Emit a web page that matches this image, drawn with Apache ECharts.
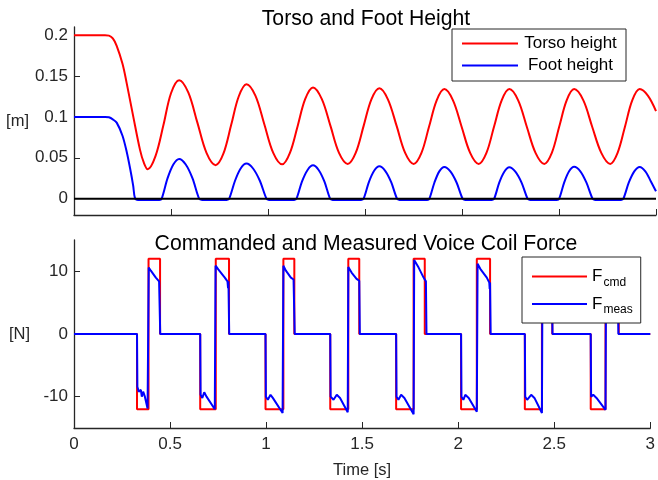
<!DOCTYPE html>
<html>
<head>
<meta charset="utf-8">
<script src="https://cdn.jsdelivr.net/npm/echarts@6/dist/echarts.min.js"></script>
<style>
html,body{margin:0;padding:0;background:#fff;}
#main{width:658px;height:480px;}
</style>
</head>
<body>
<div id="main"></div>
<script>
// 上图: 躯干和脚的高度 [t, m]
var torsoHeight = [
  [0,0.2],[0.160,0.2],[0.180,0.1995],[0.2,0.196],[0.22,0.187],[0.25,0.165],[0.271,0.142],[0.305,0.101],[0.34,0.060],[0.36,0.044],[0.38,0.036],
  [0.42,0.052],[0.461,0.090],[0.50,0.129],[0.542,0.145],
  [0.589,0.130],[0.636,0.093],[0.683,0.056],[0.730,0.041],
  [0.770,0.055],[0.810,0.090],[0.849,0.125],[0.889,0.140],
  [0.935,0.126],[0.981,0.091],[1.027,0.056],[1.073,0.042],
  [1.113,0.056],[1.153,0.089],[1.192,0.122],[1.232,0.136],
  [1.277,0.122],[1.322,0.089],[1.366,0.056],[1.411,0.0425],
  [1.452,0.056],[1.493,0.089],[1.533,0.1215],[1.574,0.135],
  [1.618,0.1215],[1.663,0.089],[1.707,0.056],[1.751,0.0425],
  [1.791,0.056],[1.830,0.088],[1.870,0.1205],[1.909,0.134],
  [1.953,0.1205],[1.998,0.088],[2.042,0.056],[2.086,0.0425],
  [2.126,0.056],[2.165,0.088],[2.205,0.1205],[2.244,0.134],
  [2.289,0.1205],[2.334,0.088],[2.379,0.056],[2.424,0.0425],
  [2.463,0.056],[2.501,0.088],[2.540,0.1205],[2.578,0.134],
  [2.625,0.1205],[2.671,0.088],[2.718,0.056],[2.764,0.0425],
  [2.802,0.056],[2.840,0.088],[2.878,0.1205],[2.916,0.134],
  [2.958,0.126],[3.0,0.107]
];
var footHeight = [
  [0,0.1],[0.160,0.1],[0.180,0.0995],[0.2,0.097],[0.22,0.093],[0.25,0.077],[0.271,0.058],[0.29,0.036],[0.305,0.016],[0.314,0.001],
  [0.33,-0.0015],[0.44,-0.0015],
  [0.452,0],[0.482,0.0248],[0.512,0.0418],[0.542,0.0486],[0.576,0.0418],[0.611,0.0248],[0.645,0],
  [0.66,-0.0015],[0.787,-0.0015],
  [0.80,0],[0.83,0.0219],[0.859,0.0369],[0.889,0.0429],[0.923,0.0369],[0.958,0.0219],[0.992,0],
  [1.005,-0.0015],[1.135,-0.0015],
  [1.147,0],[1.175,0.0208],[1.204,0.0351],[1.232,0.0408],[1.261,0.0351],[1.291,0.0208],[1.32,0],
  [1.333,-0.0015],[1.48,-0.0015],
  [1.493,0],[1.52,0.0202],[1.547,0.0341],[1.574,0.0396],[1.604,0.0341],[1.635,0.0202],[1.665,0],
  [1.678,-0.0015],[1.82,-0.0015],
  [1.832,0],[1.858,0.0198],[1.883,0.0334],[1.909,0.0388],[1.94,0.0334],[1.972,0.0198],[2.003,0],
  [2.016,-0.0015],[2.154,-0.0015],
  [2.166,0],[2.192,0.0196],[2.218,0.033],[2.244,0.0384],[2.275,0.033],[2.307,0.0196],[2.338,0],
  [2.351,-0.0015],[2.489,-0.0015],
  [2.501,0],[2.527,0.0199],[2.552,0.0335],[2.578,0.039],[2.61,0.0335],[2.641,0.0199],[2.673,0],
  [2.686,-0.0015],[2.82,-0.0015],
  [2.832,0],[2.86,0.0198],[2.888,0.0334],[2.916,0.0388],[2.945,0.0334],[2.973,0.0214],[3.0,0.009]
];
var groundLine = [[0,0],[3,0]];

// 下图: 音圈力 [t, N]
var forceCmd = [
  [0,0],[0.328,0],[0.328,-12],[0.388,-12],[0.388,12],[0.448,12],[0.448,0],
  [0.657,0],[0.657,-12],[0.738,-12],[0.738,12],[0.807,12],[0.807,0],
  [0.997,0],[0.997,-12],[1.090,-12],[1.090,12],[1.147,12],[1.147,0],
  [1.334,0],[1.334,-12],[1.428,-12],[1.428,12],[1.485,12],[1.485,0],
  [1.677,0],[1.677,-12],[1.768,-12],[1.768,12],[1.826,12],[1.826,0],
  [2.015,0],[2.015,-12],[2.097,-12],[2.097,12],[2.166,12],[2.166,0],
  [2.347,0],[2.347,-12],[2.436,-12],[2.436,12],[2.49,12],[2.49,0],
  [2.69,0],[2.69,-12],[2.767,-12],[2.767,12],[2.836,12],[2.836,0],
  [3.0,0]
];
var forceMeas = [
  [0,0],[0.328,0],[0.330,-8.4],[0.337,-9.2],[0.348,-8.9],[0.353,-10],[0.360,-9.2],[0.369,-10],[0.383,-11.9],
  [0.389,10.6],[0.400,10.1],[0.426,9.0],[0.443,8.4],[0.449,0],
  [0.657,0],[0.659,-9.7],[0.668,-10.2],[0.678,-9.3],[0.690,-10],[0.733,-12],
  [0.737,10.9],[0.751,10.3],[0.785,9.0],[0.799,8.4],[0.802,7.3],[0.804,8.4],[0.808,0],
  [0.997,0],[0.999,-10],[1.009,-10.5],[1.023,-9.7],[1.035,-10.2],[1.086,-12.6],
  [1.090,10.9],[1.103,10.1],[1.129,9.0],[1.143,8.7],[1.149,0],
  [1.334,0],[1.336,-10],[1.351,-10.5],[1.368,-9.7],[1.385,-10.2],[1.425,-12.5],
  [1.428,10.7],[1.445,9.8],[1.471,8.8],[1.485,8.5],[1.488,0],
  [1.677,0],[1.679,-10],[1.689,-10.5],[1.703,-9.7],[1.720,-10.2],[1.768,-12.8],
  [1.771,11.8],[1.794,10.6],[1.820,9.0],[1.832,8.4],[1.835,0],
  [2.015,0],[2.017,-10],[2.027,-10.5],[2.037,-9.7],[2.055,-10.2],[2.097,-12.4],
  [2.101,11.2],[2.115,10.4],[2.149,9.0],[2.162,8.2],[2.164,7.2],[2.166,8.2],[2.169,0],
  [2.347,0],[2.349,-10],[2.359,-10.5],[2.380,-9.7],[2.397,-10.2],[2.436,-12.6],
  [2.439,11],[2.46,10],[2.48,9],[2.488,8.6],[2.491,0],
  [2.69,0],[2.692,-10],[2.698,-10.3],[2.703,-9.7],[2.720,-10.2],[2.767,-12.1],
  [2.770,11],[2.79,10],[2.82,9],[2.831,8.5],[2.834,0],
  [3.0,0]
];

var yTicksTop = [0, 0.05, 0.1, 0.15, 0.2];
var yTicksBottom = [-10, 0, 10];

var FONT = "'Liberation Sans', Arial, sans-serif";
var AXIS_COLOR = '#262626';

function xAxisOpt(idx, showLabel) {
  return {
    type: 'value', gridIndex: idx, min: 0, max: 3, interval: 0.5,
    axisLine: {onZero: false, lineStyle: {color: AXIS_COLOR, width: 1.3}},
    axisTick: {inside: true, length: 6, lineStyle: {color: AXIS_COLOR}},
    axisLabel: {show: showLabel, color: AXIS_COLOR, fontSize: 17, fontFamily: FONT, margin: 8},
    splitLine: {show: false},
    name: showLabel ? 'Time [s]' : '',
    nameLocation: 'middle', nameGap: 34,
    nameTextStyle: {color: AXIS_COLOR, fontSize: 16.5, fontFamily: FONT}
  };
}
function yAxisOpt(idx, min, max, ticks, name) {
  return {
    type: 'value', gridIndex: idx, min: min, max: max,
    axisLine: {show: true, onZero: false, lineStyle: {color: AXIS_COLOR, width: 1.3}},
    axisTick: {show: true, inside: true, length: 6, customValues: ticks, lineStyle: {color: AXIS_COLOR}},
    axisLabel: {color: AXIS_COLOR, fontSize: 17, fontFamily: FONT, margin: 6, customValues: ticks},
    splitLine: {show: false},
    name: name, nameLocation: 'middle', nameRotate: 0, nameGap: 44,
    nameTextStyle: {color: AXIS_COLOR, fontSize: 16.5, fontFamily: FONT}
  };
}

var chart = echarts.init(document.getElementById('main'));
var option = {
  animation: false,
  backgroundColor: '#fff',
  title: [
    {text: 'Torso and Foot Height', left: 361, top: 4, textAlign: 'center',
     textStyle: {fontSize: 21.2, fontWeight: 'normal', color: '#000', fontFamily: FONT}},
    {text: 'Commanded and Measured Voice Coil Force', left: 361, top: 229, textAlign: 'center',
     textStyle: {fontSize: 21.2, fontWeight: 'normal', color: '#000', fontFamily: FONT}}
  ],
  legend: [
    {
      data: ['Torso height', 'Foot height'],
      orient: 'vertical', left: 452, top: 29,
      padding: [5, 8, 6, 10], itemGap: 3,
      icon: 'rect', itemWidth: 56, itemHeight: 2,
      backgroundColor: '#fff', borderColor: '#262626', borderWidth: 1,
      formatter: function (n) { return '{n|' + n + '}'; },
      textStyle: {color: '#000', fontFamily: FONT, fontSize: 17, lineHeight: 19,
        rich: {n: {fontSize: 17, lineHeight: 19, width: 95, align: 'center', fontFamily: FONT}}}
    },
    {
      data: ['Fcmd', 'Fmeas'],
      orient: 'vertical', left: 522, top: 257,
      padding: [11, 8, 7, 10], itemGap: 7,
      icon: 'rect', itemWidth: 55, itemHeight: 2,
      backgroundColor: '#fff', borderColor: '#262626', borderWidth: 1,
      formatter: function (n) { return '{f|F}{s|' + n.slice(1) + '}'; },
      textStyle: {color: '#000', fontFamily: FONT,
        rich: {
          f: {fontSize: 17, fontFamily: FONT},
          s: {fontSize: 12, padding: [12, 0, 0, 1], fontFamily: FONT}
        }}
    }
  ],
  grid: [
    {left: 74, right: 2, top: 27, height: 188},
    {left: 74, right: 2, top: 240, height: 188}
  ],
  xAxis: [xAxisOpt(0, false), xAxisOpt(1, true)],
  yAxis: [
    yAxisOpt(0, -0.02, 0.21, yTicksTop, '[m]'),
    yAxisOpt(1, -15, 15, yTicksBottom, '[N]')
  ],
  series: [
    {name: 'Torso height', type: 'line', xAxisIndex: 0, yAxisIndex: 0, data: torsoHeight,
     showSymbol: false, smooth: 0.35, color: '#ff0000', lineStyle: {width: 2}},
    {name: 'Foot height', type: 'line', xAxisIndex: 0, yAxisIndex: 0, data: footHeight,
     showSymbol: false, smooth: 0.3, color: '#0000ff', lineStyle: {width: 2}},
    {name: 'ground', type: 'line', xAxisIndex: 0, yAxisIndex: 0, data: groundLine,
     showSymbol: false, color: '#000', lineStyle: {width: 2}, silent: true},
    {name: 'Fcmd', type: 'line', xAxisIndex: 1, yAxisIndex: 1, data: forceCmd,
     showSymbol: false, color: '#ff0000', lineStyle: {width: 2}},
    {name: 'Fmeas', type: 'line', xAxisIndex: 1, yAxisIndex: 1, data: forceMeas,
     showSymbol: false, color: '#0000ff', lineStyle: {width: 2}}
  ]
};
chart.setOption(option);
</script>
</body>
</html>
